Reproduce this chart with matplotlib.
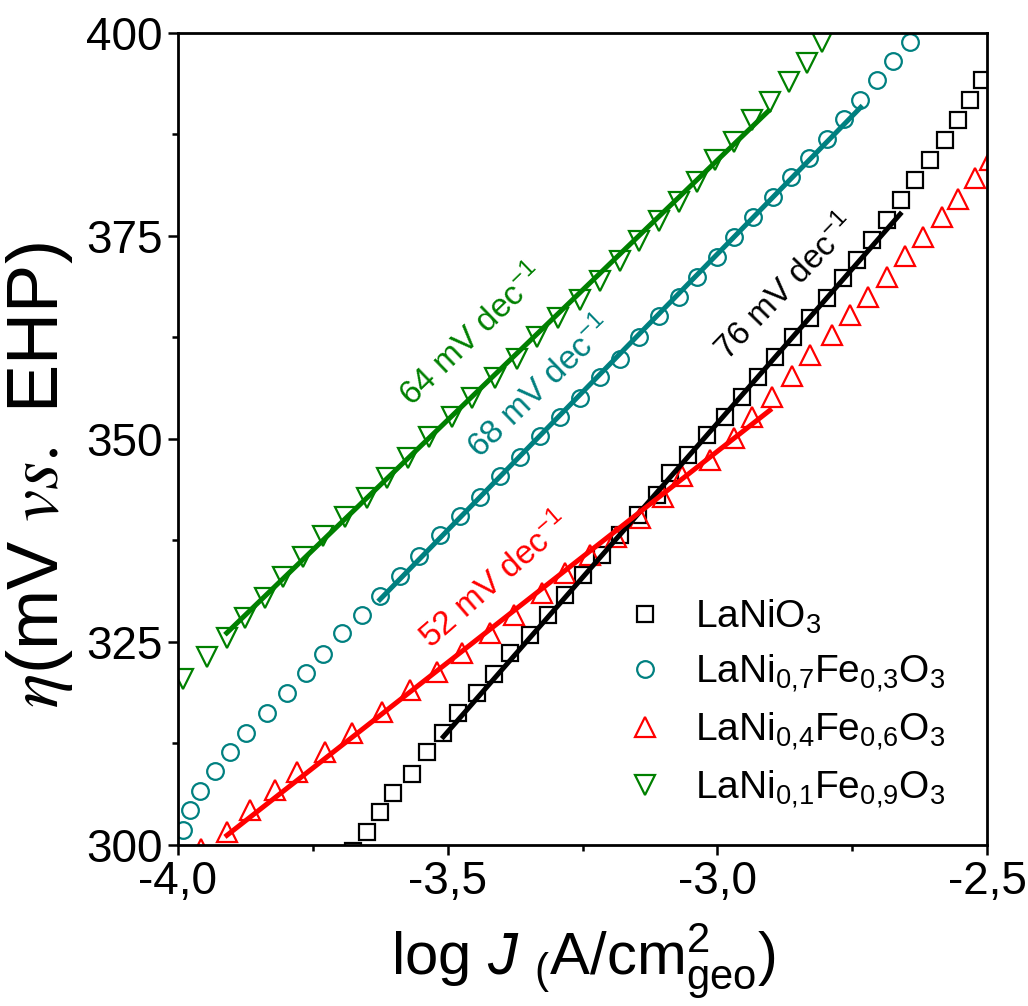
import matplotlib
matplotlib.use('Agg')
import matplotlib.pyplot as plt
from matplotlib import font_manager
from matplotlib.ticker import MultipleLocator, FuncFormatter
import numpy as np

# ---- data: overpotential (mV) vs log current density ----
black_x = [-3.676, -3.650, -3.625, -3.602, -3.567, -3.539, -3.508, -3.480, -3.446, -3.415,
           -3.384, -3.347, -3.314, -3.282, -3.249, -3.214, -3.180, -3.147, -3.112, -3.088,
           -3.054, -3.019, -2.986, -2.954, -2.925, -2.893, -2.860, -2.828, -2.797, -2.767,
           -2.741, -2.713, -2.685, -2.659, -2.633, -2.606, -2.578, -2.554, -2.531, -2.509]
black_y = [299.3, 301.6, 304.1, 306.4, 308.8, 311.5, 313.8, 316.2, 318.7, 321.1,
           323.6, 325.9, 328.3, 330.8, 333.3, 335.7, 338.2, 340.6, 343.1, 345.8,
           348.0, 350.5, 352.7, 355.2, 357.6, 360.1, 362.6, 364.9, 367.4, 369.8,
           372.0, 374.5, 377.0, 379.4, 381.9, 384.4, 386.8, 389.3, 391.7, 394.2]

teal_x = [-3.991, -3.978, -3.959, -3.931, -3.904, -3.874, -3.835, -3.798, -3.763, -3.731,
          -3.695, -3.659, -3.625, -3.588, -3.553, -3.514, -3.477, -3.440, -3.403, -3.366,
          -3.329, -3.292, -3.255, -3.217, -3.180, -3.145, -3.109, -3.072, -3.038, -3.001,
          -2.969, -2.933, -2.896, -2.863, -2.830, -2.797, -2.766, -2.735, -2.704, -2.674,
          -2.643]
teal_y = [301.8, 304.3, 306.6, 309.1, 311.5, 313.8, 316.3, 318.7, 321.2, 323.5,
          326.1, 328.3, 330.7, 333.1, 335.6, 338.2, 340.5, 342.9, 345.4, 347.8,
          350.4, 352.7, 355.0, 357.6, 359.9, 362.6, 365.1, 367.5, 370.0, 372.4,
          374.9, 377.3, 379.8, 382.3, 384.6, 387.0, 389.4, 391.8, 394.2, 396.6,
          398.9]

red_x = [-3.957, -3.910, -3.866, -3.820, -3.780, -3.727, -3.678, -3.622, -3.570, -3.520,
         -3.474, -3.421, -3.377, -3.326, -3.282, -3.236, -3.187, -3.143, -3.101, -3.066,
         -3.014, -2.970, -2.936, -2.899, -2.862, -2.828, -2.788, -2.754, -2.720, -2.686,
         -2.652, -2.618, -2.584, -2.553, -2.522, -2.494]
red_y = [299.5, 301.6, 304.3, 306.8, 309.0, 311.5, 313.8, 316.4, 319.1, 321.3,
         323.6, 326.1, 328.3, 331.0, 333.5, 335.7, 337.9, 340.3, 342.9, 345.4,
         347.4, 350.1, 352.7, 355.2, 357.7, 360.3, 362.8, 365.3, 367.5, 370.0,
         372.5, 374.9, 377.4, 379.6, 382.1, 384.4]

green_x = [-3.991, -3.947, -3.910, -3.876, -3.839, -3.805, -3.768, -3.731, -3.690, -3.650,
           -3.613, -3.573, -3.535, -3.492, -3.455, -3.412, -3.372, -3.335, -3.295, -3.255,
           -3.217, -3.180, -3.145, -3.109, -3.072, -3.038, -3.004, -2.970, -2.936, -2.902,
           -2.868, -2.834, -2.806]
green_y = [320.4, 323.2, 325.5, 327.9, 330.4, 333.0, 335.5, 338.0, 340.4, 342.7,
           345.2, 347.6, 350.2, 352.7, 355.0, 357.5, 359.9, 362.6, 364.9, 367.1,
           369.4, 371.9, 374.4, 376.8, 379.2, 381.7, 384.4, 386.6, 389.3, 391.5,
           394.0, 396.3, 398.9]

# Tafel fits: slope (mV/dec), start point (x0, y0) and end x
tafel_slopes = [76, 68, 52, 64]
fit_x0 = [-3.511, -3.629, -3.913, -3.913]
fit_y0 = [313.1, 330.0, 301.0, 325.9]
fit_x1 = [-2.658, -2.731, -2.899, -2.902]

labels = ['LaNiO$_3$',
          'LaNi$_{0{,}7}$Fe$_{0{,}3}$O$_3$',
          'LaNi$_{0{,}4}$Fe$_{0{,}6}$O$_3$',
          'LaNi$_{0{,}1}$Fe$_{0{,}9}$O$_3$']
colors = ['#000000', '#008080', '#ff0000', '#008000']
markers = ['s', 'o', '^', 'v']
msizes = [11, 12, 14, 14]

# slope annotation positions (data coords) and angles
ann_x = [-2.874, -3.329, -3.412, -3.455]
ann_y = [368.7, 356.3, 332.5, 362.8]
ann_rot = [46, 44, 41, 44]

# ---- fonts ----
names = {f.name for f in font_manager.fontManager.ttflist}
SANS = 'Liberation Sans' if 'Liberation Sans' in names else 'DejaVu Sans'
NARROW = 'Liberation Sans Narrow' if 'Liberation Sans Narrow' in names else SANS

plt.rcParams['font.family'] = [SANS, 'DejaVu Sans']
plt.rcParams['mathtext.fontset'] = 'custom'
plt.rcParams['mathtext.rm'] = SANS
plt.rcParams['mathtext.it'] = SANS + ':italic'
plt.rcParams['mathtext.bf'] = SANS + ':bold'

fig = plt.figure(figsize=(10.28, 10.06), dpi=100)
ax = fig.add_axes([178/1028, 1 - 845/1006, (987-178)/1028, (845-33)/1006])

series = [(black_x, black_y), (teal_x, teal_y), (red_x, red_y), (green_x, green_y)]
for (xs, ys), c, m, ms, lab in zip(series, colors, markers, msizes, labels):
    ax.plot(xs, ys, linestyle='none', marker=m, markersize=ms, markerfacecolor='none',
            markeredgecolor=c, markeredgewidth=1.6, label=lab, zorder=2)

for s, x0, y0, x1, c in zip(tafel_slopes, fit_x0, fit_y0, fit_x1, colors):
    xx = np.array([x0, x1])
    ax.plot(xx, y0 + s * (xx - x0), color=c, linewidth=3.6, solid_capstyle='butt', zorder=3)

for s, x, y, r, c in zip(tafel_slopes, ann_x, ann_y, ann_rot, colors):
    ax.text(x, y, f'{s} mV dec$^{{-1}}$', color=c, fontsize=24, rotation=r,
            rotation_mode='anchor', ha='center', va='center', zorder=4)

ax.set_xlim(-4.0, -2.5)
ax.set_ylim(300, 400)
ax.xaxis.set_major_locator(MultipleLocator(0.5))
ax.xaxis.set_minor_locator(MultipleLocator(0.25))
ax.yaxis.set_major_locator(MultipleLocator(25))
ax.yaxis.set_minor_locator(MultipleLocator(12.5))
ax.xaxis.set_major_formatter(FuncFormatter(lambda v, p: f'{v:.1f}'.replace('.', ',')))
ax.yaxis.set_major_formatter(FuncFormatter(lambda v, p: f'{v:.0f}'))

for sp in ax.spines.values():
    sp.set_linewidth(2.0)
ax.tick_params(which='both', direction='out', width=1.8, top=False, right=False)
ax.tick_params(which='major', length=7)
ax.tick_params(which='minor', length=4)
ax.tick_params(axis='y', which='major', labelsize=33, pad=4)
ax.tick_params(axis='x', which='major', labelsize=33, pad=4)
for t in ax.get_xticklabels():
    t.set_fontfamily(NARROW)

leg = ax.legend(loc='upper left', bbox_to_anchor=((600-178)/809, (845-582)/812),
                frameon=False, fontsize=28, handletextpad=0.55, labelspacing=0.42,
                borderaxespad=0, handlelength=1.5, numpoints=1)

# axis titles
fig.text(583/1028, 30/1006, r'log $J$ $_($A/cm$^2_{\mathrm{geo}}$)', fontsize=43,
         family=NARROW, ha='center', va='baseline')
fig.text(40/1028, 1 - 475/1006, r'$\eta$(mV $\mathit{vs.}$ EHP)', fontsize=52,
         rotation=90, ha='center', va='center', math_fontfamily='stix')

fig.savefig('out.png', dpi=100)
